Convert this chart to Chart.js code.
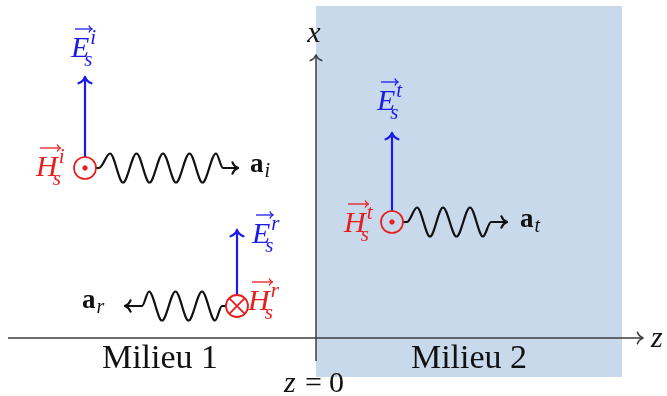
<!DOCTYPE html>
<html>
<head>
<meta charset="utf-8">
<script src="https://cdn.jsdelivr.net/npm/chart.js@4.4.1/dist/chart.umd.min.js"></script>
<style>
  html, body { margin: 0; padding: 0; background: #fff; }
  #wrap { width: 667px; height: 396px; }
</style>
</head>
<body>
<div id="wrap"><canvas id="c"></canvas></div>
<script>
// diagram coordinates: z to the right, x upward, origin where the axes cross
const medium2Top = [{ x: 0, y: 332 }, { x: 306, y: 332 }];
const medium2Bottom = -39;
const zAxisLine = [{ x: -308, y: 0 }, { x: 327, y: 0 }];
const xAxisLine = [{ x: 0, y: -23 }, { x: 0, y: 283 }];

// waves: z of each extremum, x of each extremum
const incidentZ = [-220, -217, -206, -193, -179.5, -166.5, -153, -140, -126.5, -113.5, -100, -93, -78];
const incidentX = [170, 170, 184.5, 155.5, 184.5, 155.5, 184.5, 155.5, 184.5, 155.5, 184.5, 170, 170];
const reflectedZ = [-191, -174, -167, -154, -140.5, -127.5, -114, -101, -94, -90];
const reflectedX = [32, 32, 46.5, 17.5, 46.5, 17.5, 46.5, 17.5, 32, 32];
const transmittedZ = [87, 91, 101, 114, 127, 140.5, 154, 167, 175, 191];
const transmittedX = [116, 116, 130.5, 101.5, 130.5, 101.5, 130.5, 101.5, 116, 116];

// field vectors E (blue arrows) and H (circles)
const eIncident = [{ x: -231, y: 181 }, { x: -231, y: 261 }];
const eReflected = [{ x: -79, y: 43 }, { x: -79, y: 108 }];
const eTransmitted = [{ x: 76, y: 127 }, { x: 76, y: 205 }];
const hOut = [{ x: -231, y: 170 }, { x: 76, y: 116 }];
const hIn = [{ x: -79, y: 32 }];

const zip = (zs, xs) => zs.map((z, i) => ({ x: z, y: xs[i] }));

const BLUE = '#1c1ce8';
const RED = '#e61e1e';
const AXIS = '#3c3c3c';
const SERIF = '"Liberation Serif", "DejaVu Serif", serif';

// text anchors
const vectorLabels = [
  { base: 'E', sup: 'i', z: -245, x: 281, color: BLUE },
  { base: 'E', sup: 'r', z: -64, x: 95, color: BLUE },
  { base: 'E', sup: 't', z: 61, x: 228, color: BLUE },
  { base: 'H', sup: 'i', z: -280, x: 162, color: RED },
  { base: 'H', sup: 'r', z: -68, x: 28, color: RED },
  { base: 'H', sup: 't', z: 28, x: 106, color: RED }
];
const unitLabels = [
  { sub: 'i', z: -66, x: 166 },
  { sub: 'r', z: -234, x: 30 },
  { sub: 't', z: 204, x: 111 }
];
const mediumLabels = [
  { text: 'Milieu 1', z: -156, x: -30 },
  { text: 'Milieu 2', z: 153, x: -30 }
];

function drawHead(ctx, tip, from, len, spread) {
  const a = Math.atan2(tip.y - from.y, tip.x - from.x);
  ctx.beginPath();
  [-1, 1].forEach(s => {
    const bx = tip.x - len * Math.cos(a + s * spread);
    const by = tip.y - len * Math.sin(a + s * spread);
    const cx = tip.x - len * 0.55 * Math.cos(a + s * spread * 0.45);
    const cy = tip.y - len * 0.55 * Math.sin(a + s * spread * 0.45);
    ctx.moveTo(bx, by);
    ctx.quadraticCurveTo(cx, cy, tip.x, tip.y);
  });
  ctx.stroke();
}

const arrowPlugin = {
  id: 'arrows',
  afterDatasetsDraw(chart) {
    const ctx = chart.ctx;
    chart.data.datasets.forEach((ds, i) => {
      if (!ds.arrowHead) return;
      const pts = chart.getDatasetMeta(i).data;
      let tip = pts[pts.length - 1], from = pts[pts.length - 2];
      if (ds.arrowHead === 'start') { tip = pts[0]; from = pts[1]; }
      ctx.save();
      ctx.strokeStyle = ds.borderColor;
      ctx.lineWidth = ds.borderWidth;
      ctx.lineCap = 'round';
      drawHead(ctx, tip, from, ds.headLength || 8, 0.8);
      ctx.restore();
    });
  }
};

const textPlugin = {
  id: 'texts',
  afterDraw(chart) {
    const ctx = chart.ctx;
    const sx = chart.scales.x, sy = chart.scales.y;
    const px = v => sx.getPixelForValue(v), py = v => sy.getPixelForValue(v);
    ctx.save();
    ctx.textBaseline = 'alphabetic';
    ctx.textAlign = 'left';

    vectorLabels.forEach(l => {
      const x0 = px(l.z), y0 = py(l.x);
      ctx.fillStyle = l.color;
      ctx.strokeStyle = l.color;
      ctx.font = 'italic 30px ' + SERIF;
      ctx.fillText(l.base, x0, y0);
      const w = ctx.measureText(l.base).width;
      ctx.font = 'italic 21px ' + SERIF;
      ctx.fillText(l.sup, x0 + w + 1, y0 - 13);
      ctx.fillText('s', x0 + w - 5, y0 + 9);
      // vector arrow over the letter
      ctx.lineWidth = 1.3;
      const ay = y0 - 28;
      ctx.beginPath();
      ctx.moveTo(x0 + 4, ay);
      ctx.lineTo(x0 + w + 3, ay);
      ctx.stroke();
      drawHead(ctx, { x: x0 + w + 3, y: ay }, { x: x0, y: ay }, 5, 0.8);
    });

    ctx.fillStyle = '#111';
    unitLabels.forEach(l => {
      const x0 = px(l.z), y0 = py(l.x);
      ctx.font = 'bold 27px ' + SERIF;
      ctx.fillText('a', x0, y0);
      const w = ctx.measureText('a').width;
      ctx.font = 'italic 20px ' + SERIF;
      ctx.fillText(l.sub, x0 + w + 1, y0 + 5);
    });

    ctx.textAlign = 'center';
    ctx.font = '34px ' + SERIF;
    mediumLabels.forEach(l => ctx.fillText(l.text, px(l.z), py(l.x)));

    // axis names
    ctx.font = 'italic 30px ' + SERIF;
    ctx.fillText('x', px(-2), py(296));
    ctx.textAlign = 'left';
    ctx.fillText('z', px(335), py(-9));

    // z = 0 under the interface
    const b = py(-54), c = px(-1);
    ctx.font = 'italic 30px ' + SERIF;
    ctx.fillText('z', c - 31, b);
    ctx.font = '30px ' + SERIF;
    ctx.fillText('=', c - 10, b);
    ctx.fillText('0', c + 14, b);
    ctx.restore();
  }
};

const line = (data, color, width, extra) => Object.assign({
  data, showLine: true, borderColor: color, borderWidth: width,
  pointRadius: 0, fill: false
}, extra);

const wave = (data, head) => line(data, '#111', 2.2, {
  cubicInterpolationMode: 'monotone', arrowHead: head, headLength: 8
});

new Chart(document.getElementById('c'), {
  type: 'scatter',
  data: {
    datasets: [
      { data: hIn, pointStyle: 'crossRot', pointRadius: 11, borderColor: RED, borderWidth: 1.8 },
      { data: hIn, pointStyle: 'circle', pointRadius: 11, borderColor: RED, borderWidth: 1.8, backgroundColor: 'rgba(0,0,0,0)' },
      { data: hOut, pointStyle: 'circle', pointRadius: 2.2, borderColor: RED, borderWidth: 1, backgroundColor: RED },
      { data: hOut, pointStyle: 'circle', pointRadius: 11, borderColor: RED, borderWidth: 1.7, backgroundColor: 'rgba(0,0,0,0)' },
      line(eIncident, BLUE, 2.2, { arrowHead: 'end', headLength: 9 }),
      line(eReflected, BLUE, 2.2, { arrowHead: 'end', headLength: 9 }),
      line(eTransmitted, BLUE, 2.2, { arrowHead: 'end', headLength: 9 }),
      wave(zip(incidentZ, incidentX), 'end'),
      wave(zip(reflectedZ, reflectedX), 'start'),
      wave(zip(transmittedZ, transmittedX), 'end'),
      line(zAxisLine, AXIS, 1.5, { arrowHead: 'end', headLength: 8 }),
      line(xAxisLine, AXIS, 1.5, { arrowHead: 'end', headLength: 8 }),
      line(medium2Top, 'rgba(0,0,0,0)', 0, { fill: { value: medium2Bottom }, backgroundColor: '#c9d9ec' })
    ]
  },
  options: {
    responsive: true,
    maintainAspectRatio: false,
    animation: false,
    layout: { padding: 0, autoPadding: false },
    plugins: { legend: { display: false }, tooltip: { enabled: false } },
    scales: {
      x: { type: 'linear', min: -316, max: 351, display: false },
      y: { type: 'linear', min: -58, max: 338, display: false }
    }
  },
  plugins: [arrowPlugin, textPlugin]
});
</script>
</body>
</html>
